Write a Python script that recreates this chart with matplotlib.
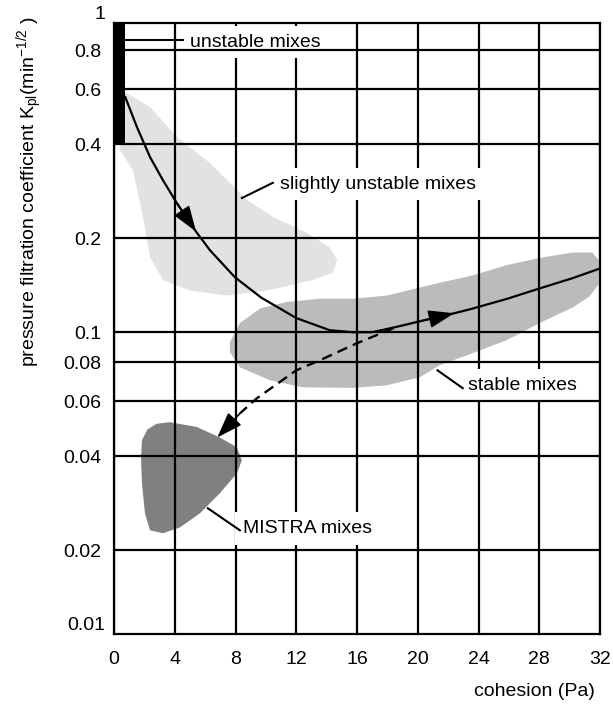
import matplotlib
matplotlib.use('Agg')
import matplotlib.pyplot as plt

plt.rcParams['font.family'] = ['Liberation Sans', 'DejaVu Sans']
plt.rcParams['mathtext.fontset'] = 'custom'
plt.rcParams['mathtext.rm'] = 'Liberation Sans'
plt.rcParams['mathtext.it'] = 'Liberation Sans:italic'
plt.rcParams['mathtext.bf'] = 'Liberation Sans:bold'

# ---------------- data ----------------
x_ticks = [0, 4, 8, 12, 16, 20, 24, 28, 32]
x_tick_labels = ['0', '4', '8', '12', '16', '20', '24', '28', '32']
y_ticks = [0.8, 0.6, 0.4, 0.2, 0.1, 0.08, 0.06, 0.04, 0.02]
y_tick_labels = ['0.8', '0.6', '0.4', '0.2', '0.1', '0.08', '0.06', '0.04', '0.02']
y_end_labels = ['1', '0.01']
x_range = [0, 32]
k_range = [0.0108, 0.978]

# unstable mixes: black band
unstable_x = [0.0, 0.75]
unstable_k = [0.4, 1.0]

# slightly unstable mixes (light grey region)
slight_x = [0.72, 2.37, 4.14, 6.32, 7.63, 8.75, 10.46, 12.7, 14.2, 14.7, 14.4,
            13.1, 10.1, 7.43, 5.0, 3.22, 2.37, 1.91, 1.25, 0.39]
slight_k = [0.588, 0.526, 0.422, 0.348, 0.301, 0.265, 0.234, 0.208, 0.187, 0.170,
            0.155, 0.147, 0.136, 0.131, 0.136, 0.147, 0.174, 0.234, 0.330, 0.383]

# stable mixes (medium grey region)
stable_x = [7.63, 8.29, 9.61, 11.38, 13.55, 15.72, 17.96, 20.13, 21.45, 23.62,
            25.86, 28.03, 30.2, 31.5, 31.9, 31.9, 31.3, 30.2, 28.03, 25.86,
            23.62, 21.45, 20.13, 17.96, 15.72, 12.43, 10.26, 8.29, 7.63]
stable_k = [0.0929, 0.107, 0.119, 0.125, 0.128, 0.128, 0.131, 0.139, 0.144, 0.152,
            0.164, 0.173, 0.180, 0.180, 0.170, 0.142, 0.130, 0.120, 0.107, 0.0943,
            0.0857, 0.0784, 0.0717, 0.0676, 0.0663, 0.0666, 0.0702, 0.0772, 0.0863]

# MISTRA mixes (dark grey region)
mistra_x = [1.84, 2.2, 2.8, 3.68, 5.46, 6.97, 8.09, 8.42, 8.09, 6.97, 5.66, 4.34,
            3.22, 2.37, 2.04, 1.84, 1.78]
mistra_k = [0.0451, 0.0488, 0.0509, 0.0515, 0.0497, 0.0460, 0.0428, 0.0389, 0.0353,
            0.0305, 0.0263, 0.0237, 0.0227, 0.0232, 0.0263, 0.0328, 0.0397]

# solid development path
path_x = [0.72, 1.51, 2.37, 3.22, 4.14, 5.4, 6.32, 7.96, 9.7, 12.0, 14.2, 15.7,
          17.0, 18.6, 20.0, 22.4, 23.6, 25.9, 28.0, 30.2, 32.0]
path_k = [0.57, 0.454, 0.364, 0.307, 0.259, 0.21, 0.183, 0.150, 0.129, 0.111,
          0.1015, 0.100, 0.100, 0.104, 0.108, 0.115, 0.119, 0.128, 0.138, 0.149, 0.160]
path_arrow_idx = [5, 15]   # arrow heads at these points

# dashed path to MISTRA
dash_x = [18.4, 16.0, 13.55, 12.0, 9.4, 8.3, 6.8]
dash_k = [0.103, 0.0922, 0.0813, 0.0755, 0.0614, 0.055, 0.046]

# annotation labels with leader lines
label_texts = ['unstable mixes', 'slightly unstable mixes', 'stable mixes', 'MISTRA mixes']
leader_x0 = [0.72, 8.42, 21.3, 6.18]
leader_k0 = [0.86, 0.269, 0.0755, 0.0273]
leader_x1 = [4.54, 10.46, 22.96, 8.29]
leader_k1 = [0.86, 0.301, 0.0662, 0.0232]
label_x = [5.0, 10.9, 23.3, 8.49]
label_k = [0.85, 0.298, 0.0676, 0.0235]

light_grey = '#e2e2e2'
mid_grey = '#bbbbbb'
dark_grey = '#808080'

# ---------------- figure ----------------
fig = plt.figure(figsize=(6.13, 7.04), dpi=100)
ax = fig.add_axes([114 / 613, 70 / 704, 486 / 613, 611 / 704])
ax.set_yscale('log')
ax.set_xlim(*x_range)
ax.set_ylim(*k_range)

ax.fill(slight_x, slight_k, color=light_grey, lw=0, zorder=1)
ax.fill(stable_x, stable_k, color=mid_grey, lw=0, zorder=1)
ax.fill(mistra_x, mistra_k, color=dark_grey, lw=0, zorder=1)

ax.fill_between(unstable_x, unstable_k[0], unstable_k[1], color='black', lw=0, zorder=5)

arrow_style = '-|>,head_length=0.8,head_width=0.28'

ax.plot(path_x, path_k, color='black', lw=1.6, zorder=5, solid_capstyle='butt')
for i in path_arrow_idx:
    ax.annotate('', xy=(path_x[i], path_k[i]), xytext=(path_x[i - 1], path_k[i - 1]),
                arrowprops=dict(arrowstyle=arrow_style, mutation_scale=20,
                                color='black', lw=1.2, shrinkA=0, shrinkB=0), zorder=6)

ax.plot(dash_x[:-1], dash_k[:-1], color='black', lw=1.7, ls=(0, (4.5, 2.6)), zorder=5)
ax.annotate('', xy=(dash_x[-1], dash_k[-1]), xytext=(dash_x[-2], dash_k[-2]),
            arrowprops=dict(arrowstyle=arrow_style, mutation_scale=20,
                            color='black', lw=1.2, shrinkA=0, shrinkB=0), zorder=6)

for t, x0, k0, x1, k1, tx, tk in zip(label_texts, leader_x0, leader_k0, leader_x1,
                                     leader_k1, label_x, label_k):
    ax.plot([x0, x1], [k0, k1], color='black', lw=1.5, zorder=5)
    ax.text(tx, tk, t, fontsize=14, ha='left', va='center', zorder=3,
            bbox=dict(boxstyle='square,pad=0.4', fc='white', ec='none'))

# grid
ax.set_xticks(x_ticks)
ax.set_xticklabels(x_tick_labels)
ax.set_yticks(y_ticks)
ax.set_yticklabels(y_tick_labels)
ax.yaxis.set_minor_locator(matplotlib.ticker.NullLocator())
ax.tick_params(axis='both', length=0, labelsize=14)
ax.tick_params(axis='x', pad=12)
ax.tick_params(axis='y', pad=9)
ax.grid(True, which='major', color='black', lw=1.6)
ax.xaxis.set_zorder(2)
ax.yaxis.set_zorder(4)
for s in ax.spines.values():
    s.set_linewidth(1.6)
    s.set_zorder(7)

# end labels (1 and 0.01)
ax.text(-9 / 486, 1.0, y_end_labels[0], transform=ax.transAxes, ha='right', va='bottom', fontsize=14)
ax.text(-9 / 486, 0.0, y_end_labels[1], transform=ax.transAxes, ha='right', va='bottom', fontsize=14)

ax.text((30 - 114) / 486, (634 - 192) / 611,
        r'pressure filtration coefficient K$_{\mathrm{pl}}$(min$^{\mathrm{-1/2}}$ )',
        transform=ax.transAxes, rotation=90, ha='center', va='center', fontsize=14)
ax.text(1.0 - 5 / 486, -(692 - 634) / 611, 'cohesion (Pa)', transform=ax.transAxes,
        ha='right', va='center', fontsize=14)

fig.savefig('out.png', dpi=100)
